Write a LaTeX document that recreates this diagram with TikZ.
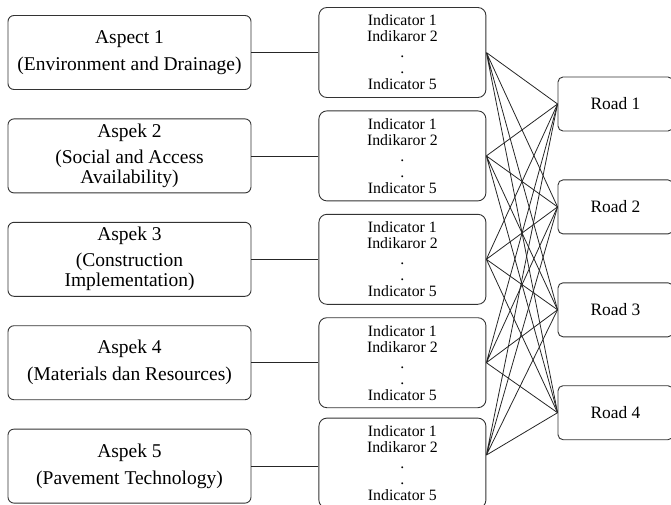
\documentclass[tikz,border=0pt]{standalone}
\usepackage{fontspec}
\setmainfont{Liberation Serif}
\newfontfamily\timesfont{Liberation Serif}
\usetikzlibrary{positioning}

\begin{document}
\begin{tikzpicture}[x=1pt, y=1pt,
  aspect/.style={draw=black!80, line width=0.9pt, rounded corners=6pt, minimum width=243pt,
                 minimum height=74pt, inner sep=3pt, align=center,
                 font=\timesfont\fontsize{19.5}{20}\selectfont},
  indbox/.style={draw=black!80, line width=0.9pt, rounded corners=8pt, minimum width=167pt,
                 minimum height=90pt, inner sep=2pt, align=center,
                 font=\timesfont\fontsize{15.8}{16}\selectfont},
  road/.style={draw=black!80, line width=0.9pt, rounded corners=5pt, minimum width=115pt,
               minimum height=54pt, font=\timesfont\fontsize{17.4}{20}\selectfont},
  link/.style={black!85, line width=0.8pt}]
  \useasboundingbox (0,0) rectangle (671,-504);
  % aspects
  \node[aspect] (asp1) at (129.5,-52.5) {Aspect 1\\[7pt](Environment and Drainage)};
  \node[aspect, below=28.5pt of asp1] (asp2) {Aspek 2\\[6pt](Social and Access\\Availability)};
  \node[aspect, below=28.5pt of asp2] (asp3) {Aspek 3\\[6pt](Construction\\Implementation)};
  \node[aspect, below=28.5pt of asp3] (asp4) {Aspek 4\\[7pt](Materials dan Resources)};
  \node[aspect, below=28.5pt of asp4] (asp5) {Aspek 5\\[7pt](Pavement Technology)};
  % indicators
  \node[indbox, right=67pt of asp1] (ind1) {Indicator 1\\Indikaror 2\\.\\.\\Indicator 5};
  \node[indbox, right=67pt of asp2] (ind2) {Indicator 1\\Indikaror 2\\.\\.\\Indicator 5};
  \node[indbox, right=67pt of asp3] (ind3) {Indicator 1\\Indikaror 2\\.\\.\\Indicator 5};
  \node[indbox, right=67pt of asp4] (ind4) {Indicator 1\\Indikaror 2\\.\\.\\Indicator 5};
  \node[indbox, right=67pt of asp5, yshift=3pt] (ind5) {Indicator 1\\Indikaror 2\\.\\.\\Indicator 5};
  \coordinate (ind5out) at ([yshift=8pt]ind5.east);
  % roads
  \node[road] (road1) at (615.5,-104) {Road 1};
  \node[road, below=48pt of road1] (road2) {Road 2};
  \node[road, below=48pt of road2] (road3) {Road 3};
  \node[road, below=48pt of road3] (road4) {Road 4};
  % aspect -> indicator
  \draw[link] (asp1) -- (ind1);
  \draw[link] (asp2) -- (ind2);
  \draw[link] (asp3) -- (ind3);
  \draw[link] (asp4) -- (ind4);
  \draw[link] (asp5.east) -- (asp5.east -| ind5.west);
  % indicator -> road
  \draw[link] (ind1.east) -- (road1.west) (ind1.east) -- (road2.west) (ind1.east) -- (road3.west) (ind1.east) -- (road4.west);
  \draw[link] (ind2.east) -- (road1.west) (ind2.east) -- (road2.west) (ind2.east) -- (road3.west) (ind2.east) -- (road4.west);
  \draw[link] (ind3.east) -- (road1.west) (ind3.east) -- (road2.west) (ind3.east) -- (road3.west) (ind3.east) -- (road4.west);
  \draw[link] (ind4.east) -- (road1.west) (ind4.east) -- (road2.west) (ind4.east) -- (road3.west) (ind4.east) -- (road4.west);
  \draw[link] (ind5out) -- (road1.west) (ind5out) -- (road2.west) (ind5out) -- (road3.west) (ind5out) -- (road4.west);
\end{tikzpicture}
\end{document}
